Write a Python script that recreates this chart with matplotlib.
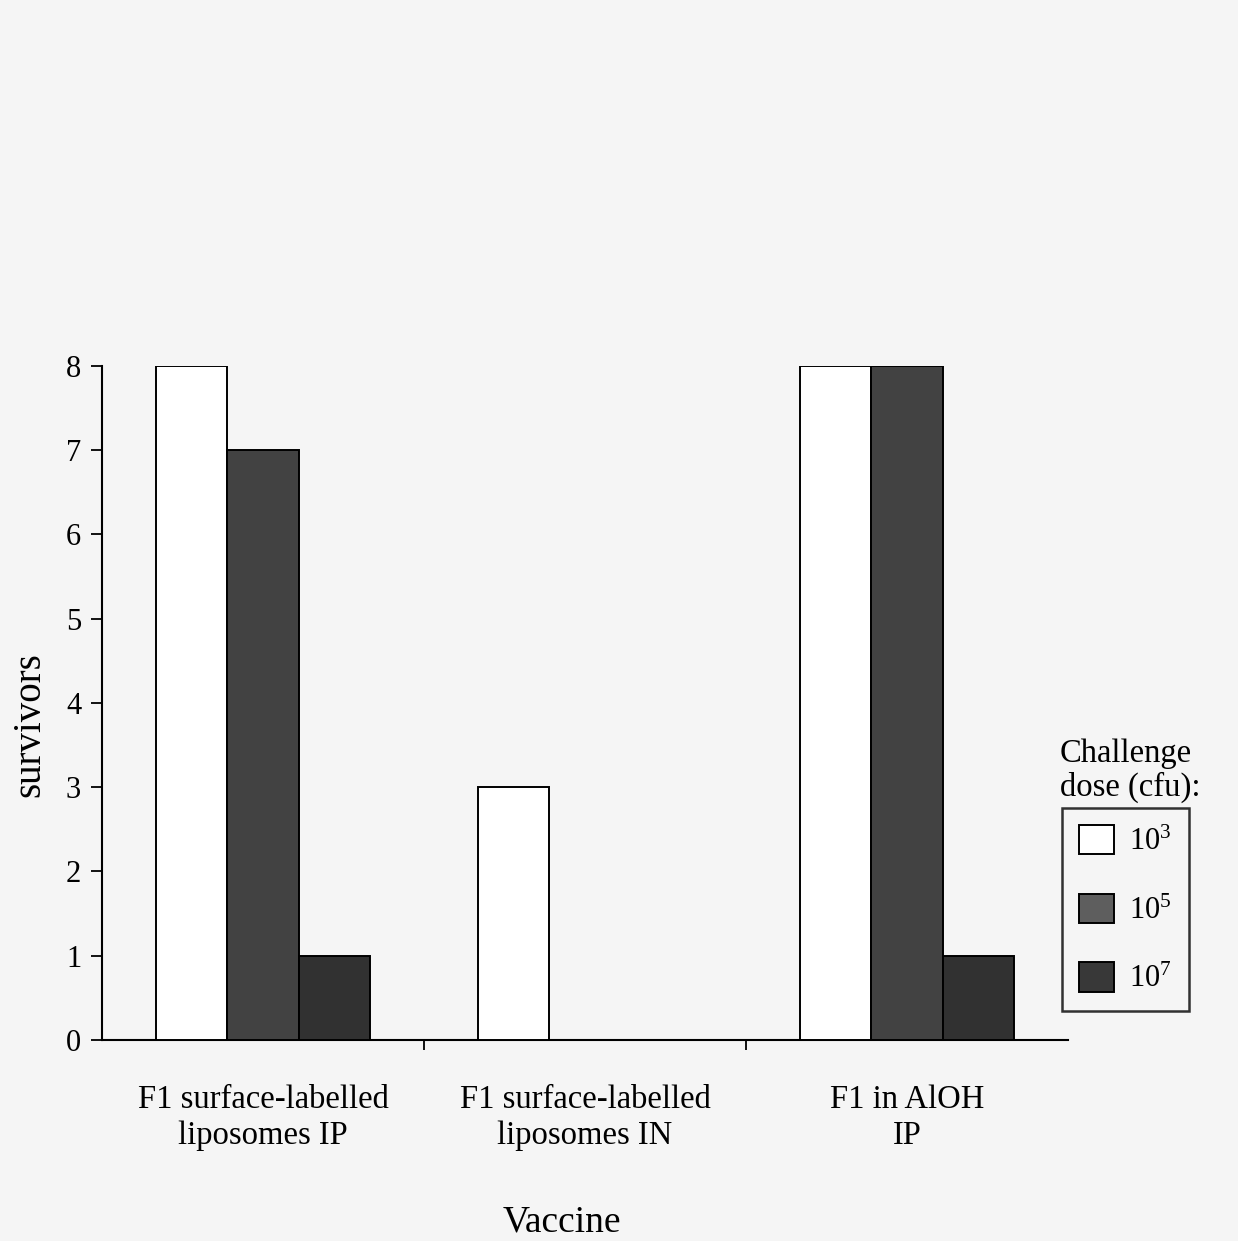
import numpy as np
import matplotlib
matplotlib.use("Agg")
import matplotlib.pyplot as plt

plt.rcParams['font.family'] = ['Liberation Serif', 'DejaVu Serif']
plt.rcParams['mathtext.fontset'] = 'custom'
plt.rcParams['mathtext.rm'] = 'Liberation Serif'

# Survivors per vaccine group at each challenge dose
vaccines = ["F1 surface-labelled\nliposomes IP",
            "F1 surface-labelled\nliposomes IN",
            "F1 in AlOH\nIP"]
dose_labels = [r"$\mathrm{10^{3}}$", r"$\mathrm{10^{5}}$", r"$\mathrm{10^{7}}$"]
survivors_1e3 = [8, 3, 8]
survivors_1e5 = [7, 0, 8]
survivors_1e7 = [1, 0, 1]
y_ticks = [0, 1, 2, 3, 4, 5, 6, 7, 8]

series = [survivors_1e3, survivors_1e5, survivors_1e7]
fills = ["#ffffff", "#424242", "#313131"]

fig = plt.figure(figsize=(12.38, 12.41), dpi=100, facecolor="#f5f5f5")
ax = fig.add_axes([0.0824, 0.162, 0.7803, 0.5431])
ax.set_facecolor("none")

x = np.arange(len(vaccines))
width = 0.221
handles = []
for i, (vals, col) in enumerate(zip(series, fills)):
    b = ax.bar(x + (i - 1) * width, vals, width, color=col,
               edgecolor="black", linewidth=1.4, label=dose_labels[i], zorder=3)
    handles.append(b)

ax.set_xlim(-0.5, 2.5)
ax.set_ylim(0, 8)
ax.set_yticks(y_ticks)
ax.set_xticks(x)
ax.set_xticklabels(vaccines, fontsize=23.5, linespacing=1.22)
ax.set_xticks([0.5, 1.5], minor=True)
ax.tick_params(axis='x', which='major', length=0, pad=32)
ax.tick_params(axis='x', which='minor', length=7, width=1.3, direction='out')
ax.tick_params(axis='y', length=8, width=1.3, direction='out', labelsize=22, pad=7)

for s in ("top", "right"):
    ax.spines[s].set_visible(False)
for s in ("left", "bottom"):
    ax.spines[s].set_linewidth(1.5)

fig.text(30 / 1238, 1 - 725 / 1241, "survivors", fontsize=28, rotation=90,
         ha="center", va="center")
fig.text(0.454, 0.0153, "Vaccine", fontsize=27, ha="center", va="center")

fig.text(0.856, 1 - 803 / 1241, "Challenge\ndose (cfu):", fontsize=23.5,
         ha="left", va="bottom", linespacing=1.12)
leg = fig.legend(handles=handles, labels=dose_labels, loc="upper left",
                 bbox_to_anchor=(1062 / 1238, 1 - 808 / 1241), fontsize=22,
                 frameon=True, fancybox=False, edgecolor="black",
                 facecolor="none", handlelength=1.15, handleheight=1.1,
                 labelspacing=1.2, borderpad=0.55, handletextpad=0.5,
                 borderaxespad=0)
leg.get_frame().set_linewidth(1.8)
leg.legend_handles[1].set_facecolor("#5e5e5e")
leg.legend_handles[2].set_facecolor("#383838")

fig.savefig("out.png", dpi=100, facecolor=fig.get_facecolor())
